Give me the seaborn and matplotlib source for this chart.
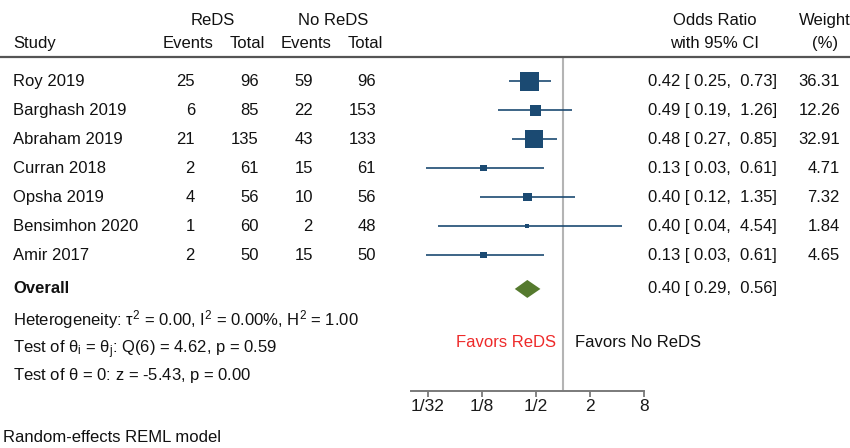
import numpy as np
import pandas as pd
import matplotlib
matplotlib.use("Agg")
import matplotlib.pyplot as plt
from matplotlib.transforms import blended_transform_factory
import seaborn as sns

# ---------------- data ----------------
studies = ["Roy 2019", "Barghash 2019", "Abraham 2019", "Curran 2018",
           "Opsha 2019", "Bensimhon 2020", "Amir 2017"]
reds_events = [25, 6, 21, 2, 4, 1, 2]
reds_total = [96, 85, 135, 61, 56, 60, 50]
noreds_events = [59, 22, 43, 15, 10, 2, 15]
noreds_total = [96, 153, 133, 61, 56, 48, 50]
odds_ratio = [0.42, 0.49, 0.48, 0.13, 0.40, 0.40, 0.13]
ci_low = [0.25, 0.19, 0.27, 0.03, 0.12, 0.04, 0.03]
ci_high = [0.73, 1.26, 0.85, 0.61, 1.35, 4.54, 0.61]
weights = [36.31, 12.26, 32.91, 4.71, 7.32, 1.84, 4.65]
overall_or = 0.40
overall_low = 0.29
overall_high = 0.56
tick_values = [1/32, 1/8, 1/2, 2, 8]
tick_labels = ["1/32", "1/8", "1/2", "2", "8"]
het_text = r"Heterogeneity: $\tau^2$ = 0.00, I$^2$ = 0.00%, H$^2$ = 1.00"
test1_text = r"Test of $\theta_i$ = $\theta_j$: Q(6) = 4.62, p = 0.59"
test2_text = r"Test of $\theta$ = 0: z = -5.43, p = 0.00"
model_text = "Random-effects REML model"

df = pd.DataFrame({"study": studies, "or": odds_ratio, "lo": ci_low,
                   "hi": ci_high, "w": weights, "row": np.arange(len(studies))})

# ---------------- style ----------------
sns.set_theme(style="white")
plt.rcParams["font.family"] = ["Liberation Sans", "DejaVu Sans"]
plt.rcParams["mathtext.fontset"] = "custom"
plt.rcParams["mathtext.rm"] = "Liberation Sans"
plt.rcParams["mathtext.it"] = "Liberation Sans"
plt.rcParams["mathtext.default"] = "regular"

FS = 12
NAVY = "#1b4a72"
GREEN = "#557a2e"

W, H = 850, 448
fig = plt.figure(figsize=(W / 100, H / 100), dpi=100)
ax_top_px, ax_bot_px = 57, 391
ax = fig.add_axes([411 / W, 1 - ax_bot_px / H, (644 - 411) / W,
                   (ax_bot_px - ax_top_px) / H])

# row layout (data units = rows)
y_header_line = -0.83
y_axis = 10.69
y_overall = 7.17
ax.set_ylim(y_axis, y_header_line)
ax.set_xscale("log", base=2)
ax.set_xlim(2 ** -5.63, 8)

# reference line at OR = 1
ax.axvline(1, color="#b4b4b4", lw=1.5, zorder=1)

# CI lines
ax.hlines(df["row"], df["lo"], df["hi"], color=NAVY, lw=1.2, zorder=2)

# squares, area proportional to weight
sns.scatterplot(data=df, x="or", y="row", size="w",
                sizes=(0, 187), size_norm=(0, max(weights)),
                marker="s", color=NAVY, linewidth=0, legend=False,
                ax=ax, zorder=3)

# overall diamond
dh = 0.31
ax.fill([overall_low, overall_or, overall_high, overall_or],
        [y_overall, y_overall - dh, y_overall, y_overall + dh],
        color=GREEN, lw=0, zorder=3)

# axis styling
for s in ["top", "right", "left"]:
    ax.spines[s].set_visible(False)
ax.spines["bottom"].set_color("#7a7a7a")
ax.spines["bottom"].set_linewidth(1.4)
ax.set_xticks(tick_values)
ax.set_xticklabels(tick_labels)
ax.minorticks_off()
ax.tick_params(axis="x", bottom=True, direction="out", length=4, width=1.3,
               color="#7a7a7a", labelsize=12.5, labelcolor="#1a1a1a", pad=2)
ax.set_yticks([])
ax.set_xlabel("")
ax.set_ylabel("")

trans = blended_transform_factory(fig.transFigure, ax.transData)


def txt(xpx, y, s, ha="left", **kw):
    kw.setdefault("fontsize", FS)
    kw.setdefault("color", "#111111")
    ax.text(xpx / W, y, s, ha=ha, va="center", transform=trans,
            clip_on=False, **kw)


# header
y_h1, y_h2 = -2.10, -1.31
txt(213, y_h1, "ReDS", ha="center")
txt(333, y_h1, "No ReDS", ha="center")
txt(715, y_h1, "Odds Ratio", ha="center")
txt(825, y_h1, "Weight", ha="center")
txt(13, y_h2, "Study")
txt(188, y_h2, "Events", ha="center")
txt(247, y_h2, "Total", ha="center")
txt(306, y_h2, "Events", ha="center")
txt(365, y_h2, "Total", ha="center")
txt(715, y_h2, "with 95% CI", ha="center")
txt(825, y_h2, "(%)", ha="center")

# header rule across the full width
ax.plot([0, 1], [y_header_line, y_header_line], transform=trans,
        color="#555555", lw=1.6, clip_on=False, zorder=4)

# study rows
for i, r in df.iterrows():
    y = r["row"]
    txt(13, y, r["study"])
    txt(195, y, f"{reds_events[i]}", ha="right")
    txt(259, y, f"{reds_total[i]}", ha="right")
    txt(313, y, f"{noreds_events[i]}", ha="right")
    txt(376, y, f"{noreds_total[i]}", ha="right")
    txt(777, y, f"{r['or']:.2f} [{r['lo']:5.2f}, {r['hi']:5.2f}]", ha="right")
    txt(840, y, f"{r['w']:.2f}", ha="right")

txt(13, y_overall, "Overall", fontweight="bold")
txt(777, y_overall, f"{overall_or:.2f} [{overall_low:5.2f}, {overall_high:5.2f}]",
    ha="right")

txt(13, 8.24, het_text)
txt(13, 9.28, test1_text)
txt(13, 10.17, test2_text)
txt(3, 12.28, model_text)

txt(556, 9.03, "Favors ReDS", ha="right", color="#ee2a2a")
txt(575, 9.03, "Favors No ReDS")

fig.savefig("out.png", dpi=100)
